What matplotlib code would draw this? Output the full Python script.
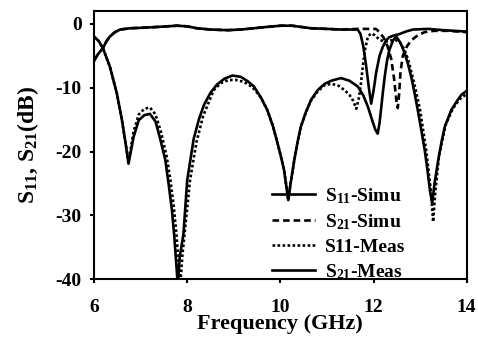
import matplotlib
matplotlib.use('Agg')
import matplotlib.pyplot as plt

plt.rcParams['font.family'] = ['Liberation Serif', 'DejaVu Serif']
plt.rcParams['font.weight'] = 'bold'
plt.rcParams['mathtext.fontset'] = 'custom'
plt.rcParams['mathtext.rm'] = 'Liberation Serif:bold'
plt.rcParams['mathtext.bf'] = 'Liberation Serif:bold'
plt.rcParams['mathtext.default'] = 'rm'
plt.rcParams['axes.unicode_minus'] = False

# S11 simulated
f_s11_sim = [6.00, 6.10, 6.19, 6.34, 6.49, 6.60, 6.69, 6.74, 6.79, 6.85, 6.96, 7.08,
             7.20, 7.32, 7.42, 7.53, 7.60, 7.67, 7.72, 7.77, 7.80, 7.84, 7.92, 8.00,
             8.14, 8.25, 8.36, 8.50, 8.64, 8.80, 8.97, 9.15, 9.30, 9.43, 9.58, 9.72,
             9.84, 9.94, 10.02, 10.08, 10.13, 10.17, 10.22, 10.30, 10.37, 10.44, 10.55,
             10.66, 10.80, 10.95, 11.10, 11.30, 11.48, 11.66, 11.78, 11.88, 11.98, 12.04,
             12.09, 12.13, 12.16, 12.20, 12.24, 12.29, 12.34, 12.42, 12.49, 12.58, 12.67,
             12.74, 12.81, 12.88, 12.95, 13.03, 13.10, 13.16, 13.21, 13.26, 13.31, 13.39,
             13.46, 13.53, 13.67, 13.80, 13.89, 14.00]
s11_sim = [-2.0, -2.7, -3.8, -6.7, -10.9, -15.1, -19.3, -21.9, -20.0, -17.7, -15.1, -14.3,
           -14.1, -15.3, -18.0, -21.3, -25.0, -29.0, -33.0, -38.0, -41.0, -36.5, -32.9, -24.5,
           -18.0, -15.0, -12.7, -10.8, -9.5, -8.6, -8.1, -8.3, -9.0, -9.8, -11.5, -13.5,
           -16.0, -18.7, -21.0, -22.9, -25.5, -27.6, -25.0, -21.3, -18.5, -16.1, -13.8,
           -11.9, -10.4, -9.4, -8.9, -8.5, -8.9, -9.8, -11.2, -13.0, -15.3, -16.6,
           -17.2, -15.5, -13.5, -10.8, -8.3, -5.8, -4.1, -2.6, -2.0, -3.0, -4.6,
           -6.3, -8.3, -10.8, -13.5, -16.8, -19.8, -23.0, -26.0, -28.1, -25.0, -21.3,
           -18.5, -16.1, -13.5, -12.0, -11.1, -10.5]

# S11 measured
f_s11_meas = [6.00, 6.10, 6.19, 6.34, 6.49, 6.60, 6.69, 6.74, 6.79, 6.85, 6.96, 7.08,
              7.20, 7.32, 7.44, 7.56, 7.64, 7.71, 7.77, 7.82, 7.85, 7.90, 7.97, 8.06,
              8.20, 8.34, 8.45, 8.57, 8.72, 8.89, 9.05, 9.22, 9.40, 9.58, 9.72, 9.84,
              9.94, 10.02, 10.08, 10.13, 10.17, 10.22, 10.30, 10.37, 10.44, 10.55, 10.66,
              10.80, 10.95, 11.10, 11.25, 11.38, 11.48, 11.56, 11.63, 11.69, 11.73, 11.77,
              11.82, 11.88, 11.95, 12.03, 12.13, 12.25, 12.38, 12.50, 12.58, 12.66, 12.74,
              12.81, 12.88, 13.00, 13.13, 13.23, 13.28, 13.33, 13.41, 13.55, 13.70, 13.85,
              14.00]
s11_meas = [-2.0, -2.7, -3.8, -6.7, -10.9, -15.1, -19.3, -21.7, -19.5, -16.8, -14.2, -13.3,
            -13.1, -14.2, -17.0, -20.8, -24.5, -28.5, -33.0, -38.0, -41.0, -36.0, -31.0, -24.5,
            -18.5, -14.5, -12.5, -10.4, -9.3, -8.8, -8.8, -9.1, -9.9, -11.5, -13.5, -16.0,
            -18.7, -21.0, -22.9, -25.5, -27.6, -25.0, -21.3, -18.5, -16.1, -13.8, -12.0,
            -10.6, -9.6, -9.4, -9.7, -10.4, -11.1, -12.0, -13.3, -11.5, -9.3, -6.7,
            -4.0, -2.0, -1.5, -1.8, -2.5, -2.8, -2.6, -2.6, -3.0, -4.0, -5.5,
            -7.5, -9.5, -13.5, -19.8, -26.0, -31.0, -26.0, -20.5, -15.8, -13.3, -11.8,
            -11.0]

# S21 measured
f_s21_meas = [6.00, 6.08, 6.19, 6.27, 6.34, 6.45, 6.56, 6.78, 7.10, 7.35, 7.78, 8.00,
              8.21, 8.50, 8.86, 9.15, 9.43, 9.70, 10.00, 10.25, 10.45, 10.66, 11.00, 11.30,
              11.66, 11.72, 11.78, 11.84, 11.90, 11.95, 12.00, 12.06, 12.13, 12.20, 12.27,
              12.34, 12.45, 12.56, 12.70, 12.85, 13.17, 13.50, 13.96, 14.00]
s21_meas = [-5.8, -4.8, -3.8, -2.7, -2.0, -1.3, -0.9, -0.7, -0.6, -0.5, -0.3, -0.4,
            -0.7, -0.9, -1.0, -0.9, -0.7, -0.5, -0.3, -0.3, -0.5, -0.7, -0.8, -0.9,
            -0.9, -1.6, -3.5, -6.5, -10.0, -12.5, -10.5, -7.5, -5.0, -3.6, -2.6,
            -2.1, -1.8, -1.6, -1.2, -0.9, -0.8, -1.0, -1.2, -1.3]

# S21 simulated
f_s21_sim = [6.00, 6.08, 6.19, 6.27, 6.34, 6.45, 6.56, 6.78, 7.10, 7.35, 7.78, 8.00,
             8.21, 8.50, 8.86, 9.15, 9.43, 9.70, 10.00, 10.25, 10.45, 10.66, 11.00, 11.30,
             11.66, 11.88, 12.05, 12.13, 12.22, 12.30, 12.38, 12.44, 12.49, 12.52, 12.55,
             12.58, 12.63, 12.72, 12.81, 12.95, 13.10, 13.30, 13.60, 14.00]
s21_sim = [-5.8, -4.8, -3.8, -2.7, -2.0, -1.3, -0.9, -0.7, -0.6, -0.5, -0.3, -0.4,
           -0.7, -0.9, -1.0, -0.9, -0.7, -0.5, -0.3, -0.3, -0.5, -0.7, -0.8, -0.9,
           -0.8, -0.8, -0.8, -1.3, -2.2, -3.5, -5.5, -8.5, -12.0, -13.2, -11.0,
           -7.5, -5.0, -3.5, -2.6, -1.8, -1.3, -1.1, -1.1, -1.3]

fig = plt.figure(figsize=(4.78, 3.42), dpi=100)
ax = fig.add_axes([0.1967, 0.1833, 0.7796, 0.7845])

ax.plot(f_s11_sim, s11_sim, color='black', lw=1.9, ls='-', label='S$_{11}$-Simu')
ax.plot(f_s21_sim, s21_sim, color='black', lw=1.9, ls=(0, (2.5, 1.5)), label='S$_{21}$-Simu')
ax.plot(f_s11_meas, s11_meas, color='black', lw=1.9, ls=(0, (1, 0.9)), label='S11-Meas')
ax.plot(f_s21_meas, s21_meas, color='black', lw=1.9, ls='-', label='S$_{21}$-Meas')

ax.set_xlim(6, 14)
ax.set_ylim(-40, 2)
ax.set_xticks([6, 8, 10, 12, 14])
ax.set_yticks([-40, -30, -20, -10, 0])
ax.tick_params(direction='out', length=3, width=1.5, labelsize=14)
ax.tick_params(axis='x', pad=11)
ax.tick_params(axis='y', pad=6)
for s in ax.spines.values():
    s.set_linewidth(1.5)

ax.set_xlabel('Frequency (GHz)', fontsize=16, fontweight='bold', labelpad=-1)
ax.set_ylabel('S$_{11}$, S$_{21}$(dB)', fontsize=17, fontweight='bold', labelpad=10)

ax.legend(loc='lower left', bbox_to_anchor=(0.478, -0.01), frameon=False,
          fontsize=14, handlelength=2.2, handletextpad=0.5, labelspacing=0.33,
          borderpad=0, borderaxespad=0)

fig.savefig('out.png', dpi=100)
